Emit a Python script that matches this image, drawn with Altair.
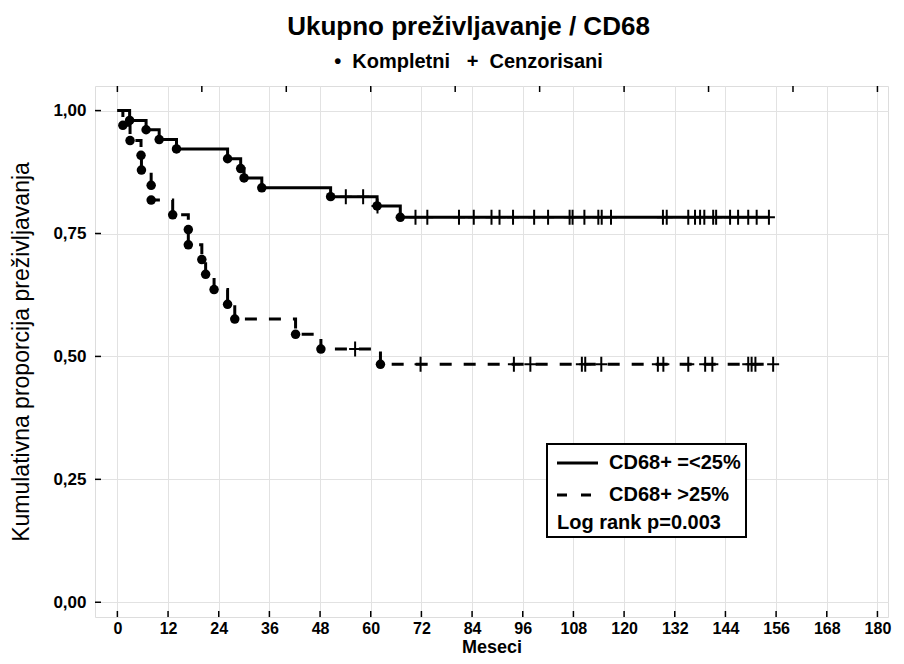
import altair as alt
import pandas as pd

# ---------------- data ----------------
# Group 1: CD68+ =<25% (solid)
a_event_t = [2.9, 6.8, 9.9, 14.0, 26.1, 29.2, 30.0, 34.2, 50.5, 61.5, 67.0]
a_event_s = [0.980, 0.961, 0.941, 0.922, 0.902, 0.882, 0.863, 0.843, 0.825, 0.806, 0.783]
a_cens_t = [54.1, 58.2, 61.6, 70.6, 73.4, 80.9, 84.4, 88.6, 90.5, 93.7, 98.7, 102.0,
            107.1, 107.8, 110.6, 113.9, 114.7, 116.9, 129.2, 130.1, 135.2, 136.8,
            138.0, 139.0, 141.1, 141.8, 145.1, 147.0, 149.4, 151.4, 154.3]

# Group 2: CD68+ >25% (dashed)
b_event_t = [1.3, 3.0, 5.6, 5.7, 8.0, 8.0, 13.1, 16.8, 16.8, 20.0, 20.9, 22.9,
             26.1, 27.8, 42.2, 48.2, 62.3]
b_event_s = [0.970, 0.939, 0.909, 0.879, 0.848, 0.818, 0.788, 0.758, 0.727, 0.697,
             0.667, 0.636, 0.606, 0.576, 0.545, 0.515, 0.484]
b_cens_t = [56.3, 71.8, 93.9, 97.8, 110.0, 110.8, 114.6, 128.0, 129.3, 135.2, 139.2,
            140.9, 149.4, 150.2, 151.1, 155.3]

x_ticks = list(range(0, 181, 12))
top_ticks = list(range(0, 181, 20))
y_ticks = [0.0, 0.25, 0.5, 0.75, 1.0]

NB = "\u00a0"
title_text = "Ukupno preživljavanje / CD68"
subtitle_text = "•" + NB * 2 + "Kompletni" + NB * 3 + "+" + NB * 2 + "Cenzorisani"
legend_labels = ["CD68+ =<25%", "CD68+ >25%", "Log rank p=0.003"]
x_title = "Meseci"
y_title = "Kumulativna proporcija preživljavanja"

FONT = "Liberation Sans"
W, H = 793, 531


def level_at(ev_t, ev_s, t):
    s = 1.0
    for et, es in zip(ev_t, ev_s):
        if et <= t:
            s = es
    return s


def curve(ev_t, ev_s, cens_t):
    end_t = max(cens_t)
    ts = [0.0] + ev_t + [end_t]
    ss = [1.0] + ev_s + [ev_s[-1]]
    return pd.DataFrame({"t": ts, "s": ss, "i": list(range(len(ts)))})


line_a = curve(a_event_t, a_event_s, a_cens_t)
line_b = curve(b_event_t, b_event_s, b_cens_t)
dots = pd.DataFrame({"t": a_event_t + b_event_t, "s": a_event_s + b_event_s})
cens = pd.DataFrame({
    "t": a_cens_t + b_cens_t,
    "s": [level_at(a_event_t, a_event_s, t) for t in a_cens_t]
    + [level_at(b_event_t, b_event_s, t) for t in b_cens_t],
})

x_scale = alt.Scale(domain=[-5.3, 182.5], nice=False, zero=False)
y_scale = alt.Scale(domain=[-0.03, 1.05], nice=False, zero=False)

x_axis = alt.Axis(values=x_ticks, format="d", title=x_title, ticks=False, domain=False,
                  grid=True, gridColor="#e2e2e2", gridWidth=1,
                  labelFont=FONT, labelFontSize=16, labelFontWeight="bold", labelColor="black",
                  labelPadding=3, titleFont=FONT, titleFontSize=18, titleFontWeight="bold",
                  titleColor="black", titleY=30, titleBaseline="middle")
y_axis = alt.Axis(values=y_ticks, labelExpr="replace(format(datum.value, '.2f'), '.', ',')",
                  title=y_title, ticks=False, domain=False, grid=True, gridColor="#e2e2e2",
                  gridWidth=1, labelFont=FONT, labelFontSize=17, labelFontWeight="bold",
                  labelColor="black", labelPadding=9, titleFont=FONT, titleFontSize=23,
                  titleFontWeight="normal", titleColor="black", titleX=-74, titleY=H / 2,
                  titleBaseline="middle", titleAlign="center", titleAngle=270)

X = alt.X("t:Q", scale=x_scale, axis=x_axis)
Y = alt.Y("s:Q", scale=y_scale, axis=y_axis)

solid = alt.Chart(line_a).mark_line(interpolate="step-after", color="black", strokeWidth=3).encode(
    x=X, y=Y, order="i:Q")
dashed = alt.Chart(line_b).mark_line(interpolate="step-after", color="black", strokeWidth=3,
                                     strokeDash=[12, 12]).encode(x=X, y=Y, order="i:Q")
dot_layer = alt.Chart(dots).mark_point(shape="circle", filled=True, size=90, color="black",
                                       opacity=1).encode(x=X, y=Y)
plus_layer = alt.Chart(cens).mark_point(shape="M-0.8,0L0.8,0M0,-1L0,1", filled=False, size=225,
                                        strokeWidth=2, color="black", opacity=1).encode(x=X, y=Y)

# inward tick marks on the frame
xt = pd.DataFrame({"t": x_ticks})
tt = pd.DataFrame({"t": top_ticks})
yt = pd.DataFrame({"s": y_ticks})
bottom_ticks = alt.Chart(xt).mark_rule(color="black", strokeWidth=1.5).encode(
    x=X, y=alt.value(H), y2=alt.value(H - 6))
top_tick_layer = alt.Chart(tt).mark_rule(color="black", strokeWidth=1.5).encode(
    x=X, y=alt.value(0), y2=alt.value(6))
left_ticks = alt.Chart(yt).mark_rule(color="black", strokeWidth=1.5).encode(
    y=Y, x=alt.value(0), x2=alt.value(6))

# legend box inside the plot
box = alt.Chart(pd.DataFrame({"k": [0]})).mark_rect(fill="white", stroke="black", strokeWidth=2).encode(
    x=alt.value(452), x2=alt.value(651), y=alt.value(358), y2=alt.value(451))
leg_solid = alt.Chart(pd.DataFrame({"k": [0]})).mark_rule(color="black", strokeWidth=3).encode(
    x=alt.value(462), x2=alt.value(503), y=alt.value(377))
leg_dash = alt.Chart(pd.DataFrame({"k": [0]})).mark_rule(color="black", strokeWidth=3,
                                                          strokeDash=[10, 14]).encode(
    x=alt.value(462), x2=alt.value(497), y=alt.value(409))


def leg_text(label, x, y):
    return alt.Chart(pd.DataFrame({"label": [label]})).mark_text(
        align="left", baseline="middle", font=FONT, fontSize=20, fontWeight="bold",
        color="black").encode(text="label:N", x=alt.value(x), y=alt.value(y))


chart = alt.layer(
    bottom_ticks, top_tick_layer, left_ticks, solid, dashed, dot_layer, plus_layer,
    box, leg_solid, leg_dash,
    leg_text(legend_labels[0], 514, 377),
    leg_text(legend_labels[1], 514, 409),
    leg_text(legend_labels[2], 462, 437),
).properties(
    width=W, height=H,
    autosize=alt.AutoSizeParams(type="none"),
    padding={"left": 87, "top": 78, "right": 8, "bottom": 39},
    title=alt.TitleParams(
        text=title_text, subtitle=subtitle_text, anchor="middle", dx=-23,
        font=FONT, fontSize=26, fontWeight="bold", color="black",
        subtitleFont=FONT, subtitleFontSize=20, subtitleFontWeight="bold", subtitleColor="black",
        subtitlePadding=12, offset=13),
).configure_view(stroke="black", strokeWidth=2).configure(background="white")

chart.save("out.html", embed_options={"renderer": "svg", "actions": False})
